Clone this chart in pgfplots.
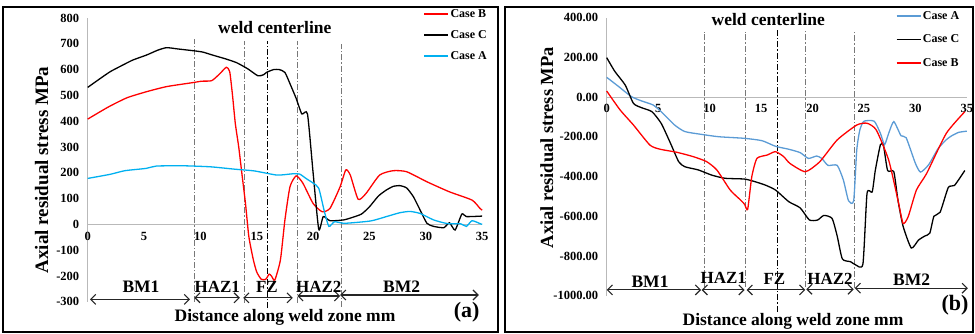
\documentclass[border=0pt]{standalone}
\usepackage{fontspec}
\setmainfont{Liberation Serif}
\usepackage{pgfplots}
\pgfplotsset{compat=1.18}
\usetikzlibrary{arrows.meta}
\definecolor{cA}{RGB}{0,176,240}
\definecolor{cAr}{RGB}{91,155,213}
\definecolor{axg}{RGB}{185,185,185}
\definecolor{vlg}{RGB}{120,120,120}
\newcommand\fs[1]{\fontsize{#1}{#1}\selectfont\bfseries}
\tikzset{
 vl/.style={vlg, line width=0.8pt, dash pattern=on 6pt off 2pt on 1.2pt off 2pt},
 cl/.style={black, line width=1.4pt, dash pattern=on 6pt off 2pt on 1.5pt off 2pt},
 arr/.style={{Straight Barb[length=5pt,width=10pt]}-{Straight Barb[length=5pt,width=10pt]}, line width=1.1pt, black!85},
}
\pgfplotsset{
 common/.style={
  axis x line=middle, axis y line=left,
  axis line style={draw=axg,line width=0.8pt,-},
  xmin=0,xmax=35, xtick={0,5,...,35},
  major tick length=0pt,
  hide obscured x ticks=false, hide obscured y ticks=false,
  tick label style={font=\fs{12.5}},
  /pgf/number format/assume math mode=true,
  /pgf/number format/1000 sep={},
  xticklabel style={yshift=-4pt},
  yticklabel style={xshift=-5pt},
  clip=false,
  legend cell align=left,
  legend image code/.code={\draw[##1] (0pt,0pt) -- (24pt,0pt);},
 },
 crv/.style={line width=1.3pt, smooth, tension=0.35},
}
\begin{document}
\begin{tikzpicture}[x=1pt,y=1pt]
\draw[line width=1.5pt] (3,1) rectangle (498,326);
\draw[line width=1.5pt] (505,1) rectangle (973,326);
\coordinate (LA) at (87.7,31.3);
\coordinate (RA) at (606.7,37.3);

% ---------- panel (a)
\begin{axis}[common,
 at={(LA)}, anchor=south west,
 x=11.27pt, y=0.2579pt,
 ymin=-300, ymax=800, ytick={-300,-200,...,800},
 legend style={at={(axis cs:29.8,840)}, anchor=north west, draw=none, fill=none, font=\fs{12}, row sep=8.5pt, inner sep=0pt, nodes={inner sep=1.5pt}},
]
\draw[vl] (axis cs:9.46,-300) -- (axis cs:9.46,718);
\draw[vl] (axis cs:13.87,-305) -- (axis cs:13.87,712);
\draw[cl] (axis cs:15.97,-325) -- (axis cs:15.97,712);
\draw[vl] (axis cs:18.63,-305) -- (axis cs:18.63,712);
\draw[vl] (axis cs:22.54,-320) -- (axis cs:22.54,699);

\addplot[red, crv] coordinates {
(0,408)(1,434)(2,459)(3.5,491)(5.2,514)(7.0,534)(9.4,550)(10.1,555)(11.0,557)(11.7,583)(12.3,609)(12.6,592)(12.85,500)(13.1,390)(13.4,300)(13.7,190)(14.0,81)(14.3,-48)(14.7,-138)(15.0,-185)(15.4,-213)(15.8,-213)(16.1,-193)(16.3,-200)(16.6,-216)(17.1,-138)(17.5,17)(17.95,146)(18.5,188)(19.1,159)(20.0,81)(20.8,49)(21.5,62)(22.4,146)(22.9,211)(23.3,191)(24.0,97)(24.7,120)(25.9,191)(27.1,208)(28.3,204)(30.1,165)(32.1,126)(34.1,94)(34.8,62)(35,55)};
\addplot[black, crv] coordinates {
(0,531)(1,562)(2,592)(3,615)(4,637)(5.2,656)(6.2,675)(7.0,685)(8,680)(9.4,673)(10.2,668)(11.1,656)(12.2,642)(13.2,627)(14.2,603)(15.1,576)(15.6,580)(15.9,590)(16.5,600)(17.0,600)(17.5,589)(18.0,540)(18.5,488)(19.0,428)(19.5,428)(20.0,200)(20.5,-19)(20.9,30)(21.5,14)(22.7,17)(23.5,27)(24.3,40)(25.0,68)(25.8,110)(26.5,133)(27.1,147)(27.7,150)(28.3,141)(28.9,107)(29.5,55)(30.1,4)(30.7,-8)(31.6,-13)(32.1,6)(32.6,-22)(33.2,40)(33.6,30)(35,32)};
\addplot[cA, crv] coordinates {
(0,178)(2,194)(3.3,208)(5.2,217)(6.1,226)(8.5,227)(10.9,223)(13.0,214)(14.8,207)(16.8,191)(18.2,196)(18.8,195)(19.4,177)(20.0,160)(20.5,140)(21.0,50)(21.4,-8)(21.9,10)(22.8,4)(25.1,13)(26.5,30)(27.7,45)(28.6,50)(29.5,42)(30.7,17)(31.9,3)(33.1,2)(33.6,-8)(34.1,14)(34.8,3)(35,0)};
\legend{Case B, Case C, Case A}

\draw[arr] (axis cs:0.2,-291) -- (axis cs:9.08,-291);
\draw[arr] (axis cs:9.46,-285) -- (axis cs:13.5,-285);
\draw[arr] (axis cs:13.8,-285) -- (axis cs:18.2,-285);
\draw[arr] (axis cs:18.6,-278) -- (axis cs:22.4,-278);
\draw[arr] (axis cs:22.4,-274) -- (axis cs:34.7,-274);
\node[font=\fs{17.5}] at (axis cs:4.73,-243) {BM1};
\node[font=\fs{17}] at (axis cs:11.5,-242) {HAZ1};
\node[font=\fs{17}] at (axis cs:15.9,-243) {FZ};
\node[font=\fs{17}] at (axis cs:20.5,-242) {HAZ2};
\node[font=\fs{17.5}] at (axis cs:27.85,-242) {BM2};
\node[font=\fs{17.5}] at (axis cs:16.6,762) {weld centerline};
\node[font=\fs{22}] at (axis cs:33.63,-339) {(a)};
\end{axis}

% ---------- panel (b)
\begin{axis}[common,
 at={(RA)}, anchor=south west,
 x=10.29pt, y=0.1987pt,
 ymin=-1000, ymax=400, ytick={-1000,-800,...,400},
 yticklabel={\pgfmathprintnumber[fixed,fixed zerofill,precision=2]{\tick}},
 legend style={at={(axis cs:28.1,440)}, anchor=north west, draw=none, fill=none, font=\fs{12}, row sep=11pt, inner sep=0pt, nodes={inner sep=1.5pt}},
]
\draw[vl] (axis cs:9.5,-955) -- (axis cs:9.5,329);
\draw[vl] (axis cs:13.5,-955) -- (axis cs:13.5,329);
\draw[cl] (axis cs:16.6,-1080) -- (axis cs:16.6,335);
\draw[vl] (axis cs:19.3,-955) -- (axis cs:19.3,335);
\draw[vl] (axis cs:24.1,-960) -- (axis cs:24.1,325);

\addplot[cAr, crv] coordinates {
(0,99)(1.1,55)(2.4,2)(3.4,-20)(4.5,-40)(5.3,-74)(6.6,-141)(7.6,-174)(9.2,-188)(10.9,-200)(13.4,-208)(15.1,-220)(16.4,-248)(17.7,-263)(18.8,-280)(19.6,-309)(20.4,-297)(20.9,-309)(21.5,-344)(22.4,-344)(23.0,-418)(23.5,-522)(24.0,-522)(24.3,-267)(24.6,-166)(25.0,-122)(26.0,-122)(26.6,-183)(27.0,-240)(27.4,-183)(27.9,-124)(28.6,-195)(29.1,-205)(30.0,-334)(30.5,-378)(31.3,-340)(32.2,-260)(33.0,-215)(33.5,-196)(34.2,-178)(35,-172)};
\addplot[black, crv] coordinates {
(0,198)(0.8,128)(1.8,60)(2.6,-32)(3.4,-54)(4.4,-74)(5.3,-133)(6.2,-233)(7.0,-326)(7.6,-351)(8.9,-367)(10.2,-393)(11.5,-409)(13.4,-413)(14.4,-426)(15.4,-443)(16.4,-468)(17.7,-527)(18.8,-558)(19.7,-619)(20.5,-619)(21.1,-596)(21.9,-611)(22.4,-700)(22.9,-815)(23.7,-829)(24.2,-845)(24.9,-840)(25.3,-485)(25.8,-478)(26.1,-370)(26.6,-240)(26.9,-245)(27.3,-370)(27.9,-376)(28.3,-518)(28.8,-650)(29.6,-760)(30.3,-720)(30.9,-700)(31.4,-685)(31.8,-600)(32.4,-580)(33.2,-455)(33.8,-445)(34.8,-370)};
\addplot[red, crv] coordinates {
(0,30)(1.3,-65)(2.6,-141)(4.2,-242)(5.2,-263)(6.8,-278)(8.4,-300)(9.7,-325)(10.7,-367)(12.0,-468)(13.0,-518)(13.4,-540)(13.7,-565)(14.1,-401)(14.6,-309)(15.6,-292)(16.4,-275)(17.2,-300)(17.8,-334)(19.3,-376)(20.7,-326)(22.4,-216)(24.3,-141)(25.3,-132)(26.2,-166)(27.4,-317)(28.3,-518)(28.8,-636)(29.3,-602)(30.1,-468)(31.1,-384)(33.0,-183)(34.8,-74)};
\legend{Case A, Case C, Case B}

\draw[arr] (axis cs:0,-971) -- (axis cs:9.17,-971);
\draw[arr] (axis cs:9.23,-971) -- (axis cs:13.4,-971);
\draw[arr] (axis cs:13.6,-971) -- (axis cs:19.3,-971);
\draw[arr] (axis cs:19.4,-968) -- (axis cs:24.0,-968);
\draw[arr] (axis cs:24.1,-962) -- (axis cs:35.1,-962);
\node[font=\fs{17.5}] at (axis cs:4.21,-929) {BM1};
\node[font=\fs{17}] at (axis cs:11.34,-909) {HAZ1};
\node[font=\fs{17}] at (axis cs:16.3,-918) {FZ};
\node[font=\fs{17}] at (axis cs:21.7,-913) {HAZ2};
\node[font=\fs{17.5}] at (axis cs:29.64,-918) {BM2};
\node[font=\fs{17.5}] at (axis cs:15.7,388) {weld centerline};
\node[font=\fs{22}] at (axis cs:33.85,-1047) {(b)};
\end{axis}

\node[rotate=90, font=\fs{19}] at (41.7,163) {Axial residual stress MPa};
\node[rotate=90, font=\fs{18.5}] at (546.7,185.3) {Axial residual stress MPa};
\node[font=\fs{17.5}] at (285,16) {Distance along weld zone mm};
\node[font=\fs{17.5}] at (793,11.3) {Distance along weld zone mm};
\pgfresetboundingbox
\path[use as bounding box] (0,0) rectangle (975,333);
\end{tikzpicture}
\end{document}
